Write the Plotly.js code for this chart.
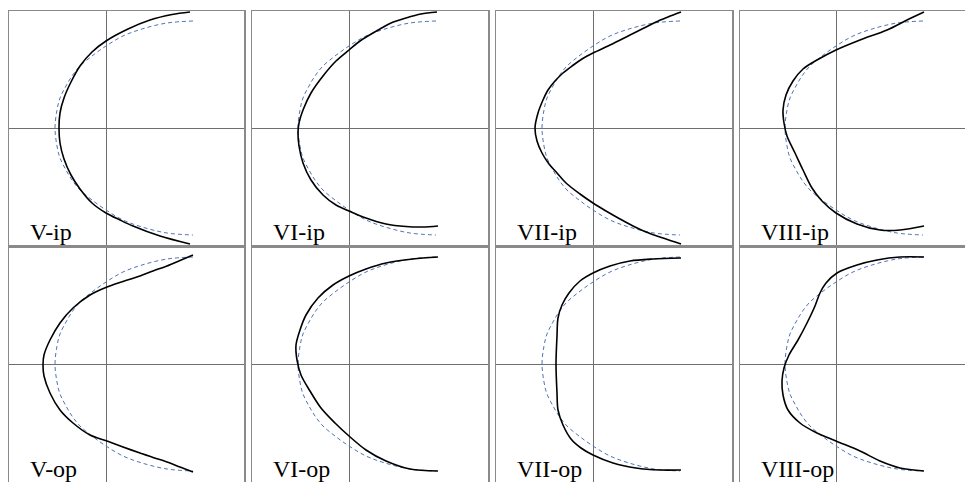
<!DOCTYPE html>
<html>
<head>
<meta charset="utf-8">
<script src="https://cdn.plot.ly/plotly-3.0.1.min.js"></script>
<style>
  html, body { margin: 0; padding: 0; background: #fff; }
  #chart { width: 965px; height: 482px; }
</style>
</head>
<body>
<div id="chart"></div>
<script>
// Panel labels, in drawing order (top row: in-plane, bottom row: out-of-plane)
const panelNames = ['V-ip', 'VI-ip', 'VII-ip', 'VIII-ip', 'V-op', 'VI-op', 'VII-op', 'VIII-op'];

// Reference profile (dashed), shared by every panel
const refX = [0.87, 0.61, 0.36, 0.17, 0.00, -0.14, -0.26, -0.34, -0.40, -0.46, -0.49, -0.51, -0.49, -0.46, -0.40, -0.34, -0.26, -0.14, 0.00, 0.17, 0.36, 0.61, 0.87];
const refY = [1.07, 1.05, 0.99, 0.92, 0.82, 0.72, 0.62, 0.52, 0.42, 0.30, 0.18, 0.00, -0.18, -0.30, -0.42, -0.52, -0.62, -0.72, -0.82, -0.92, -0.99, -1.05, -1.07];

// Measured profiles (solid)
const vIpX = [0.84, 0.66, 0.44, 0.22, 0.00, -0.14, -0.26, -0.35, -0.42, -0.46, -0.47, -0.46, -0.42, -0.35, -0.26, -0.14, 0.00, 0.14, 0.27, 0.54, 0.84];
const vIpY = [1.16, 1.135, 1.08, 0.99, 0.87, 0.76, 0.62, 0.46, 0.30, 0.15, 0.00, -0.15, -0.31, -0.47, -0.61, -0.75, -0.85, -0.92, -0.98, -1.08, -1.16];

const viIpX = [0.88, 0.72, 0.57, 0.42, 0.31, 0.11, 0.00, -0.13, -0.26, -0.38, -0.46, -0.50, -0.51, -0.50, -0.46, -0.38, -0.26, -0.13, 0.00, 0.17, 0.37, 0.57, 0.74, 0.89];
const viIpY = [1.16, 1.14, 1.10, 1.05, 0.99, 0.87, 0.78, 0.67, 0.52, 0.35, 0.18, 0.05, -0.05, -0.18, -0.35, -0.52, -0.67, -0.77, -0.83, -0.90, -0.96, -0.985, -0.99, -0.98];

const viiIpX = [0.88, 0.75, 0.63, 0.50, 0.37, 0.17, 0.00, -0.11, -0.21, -0.30, -0.38, -0.45, -0.50, -0.55, -0.58, -0.56, -0.51, -0.44, -0.36, -0.27, -0.13, 0.00, 0.13, 0.27, 0.40, 0.53, 0.70, 0.88];
const viiIpY = [1.16, 1.11, 1.06, 0.995, 0.93, 0.83, 0.75, 0.69, 0.62, 0.55, 0.47, 0.38, 0.28, 0.15, 0.00, -0.13, -0.25, -0.36, -0.45, -0.55, -0.66, -0.75, -0.83, -0.91, -0.98, -1.04, -1.10, -1.16];

const viiiIpX = [0.88, 0.71, 0.51, 0.24, 0.00, -0.19, -0.33, -0.43, -0.50, -0.53, -0.52, -0.49, -0.41, -0.33, -0.24, -0.14, 0.00, 0.21, 0.44, 0.64, 0.88];
const viiiIpY = [1.16, 1.08, 0.98, 0.88, 0.78, 0.68, 0.59, 0.47, 0.33, 0.18, 0.05, -0.08, -0.25, -0.42, -0.60, -0.73, -0.85, -0.96, -1.02, -1.02, -0.98];

const vOpX = [0.87, 0.74, 0.61, 0.47, 0.34, 0.17, 0.01, -0.16, -0.33, -0.46, -0.56, -0.62, -0.63, -0.62, -0.56, -0.46, -0.33, -0.16, 0.01, 0.17, 0.34, 0.47, 0.61, 0.74, 0.87];
const vOpY = [1.09, 1.035, 0.98, 0.93, 0.88, 0.825, 0.77, 0.69, 0.56, 0.41, 0.24, 0.09, -0.01, -0.12, -0.29, -0.46, -0.59, -0.71, -0.77, -0.83, -0.89, -0.935, -0.98, -1.03, -1.08];

const viOpX = [0.89, 0.64, 0.37, 0.17, 0.00, -0.16, -0.31, -0.43, -0.49, -0.53, -0.52, -0.48, -0.39, -0.28, -0.14, 0.00, 0.17, 0.37, 0.61, 0.89];
const viOpY = [1.07, 1.05, 1.01, 0.95, 0.88, 0.79, 0.66, 0.49, 0.34, 0.19, 0.04, -0.11, -0.27, -0.44, -0.59, -0.72, -0.86, -0.97, -1.05, -1.07];

const viiOpX = [0.88, 0.60, 0.37, 0.17, 0.00, -0.13, -0.24, -0.31, -0.35, -0.36, -0.37, -0.36, -0.35, -0.30, -0.22, -0.12, 0.00, 0.20, 0.43, 0.67, 0.88];
const viiOpY = [1.06, 1.05, 1.03, 0.98, 0.91, 0.83, 0.71, 0.59, 0.46, 0.28, 0.00, -0.29, -0.46, -0.61, -0.75, -0.84, -0.91, -0.99, -1.04, -1.06, -1.06];

const viiiOpX = [0.88, 0.64, 0.41, 0.21, 0.01, -0.10, -0.16, -0.21, -0.29, -0.38, -0.47, -0.52, -0.54, -0.53, -0.48, -0.36, -0.21, 0.00, 0.24, 0.44, 0.64, 0.88];
const viiiOpY = [1.07, 1.07, 1.04, 0.99, 0.91, 0.81, 0.71, 0.58, 0.41, 0.24, 0.09, -0.04, -0.17, -0.31, -0.46, -0.59, -0.68, -0.77, -0.87, -0.97, -1.04, -1.07];

const measuredX = [vIpX, viIpX, viiIpX, viiiIpX, vOpX, viOpX, viiOpX, viiiOpX];
const measuredY = [vIpY, viIpY, viiIpY, viiiIpY, vOpY, viOpY, viiOpY, viiiOpY];

// Panel frame geometry in pixels (figure is 965 x 482)
const W = 965, H = 482, PX_PER_UNIT = 100;
const colLeft = [9, 252, 496, 740];
const colRight = [244, 488, 732, 965];
const colCenter = [106, 349, 593, 836];
const rowTop = [11, 248];
const rowBottom = [245, 482];
const rowCenter = [128, 364];

const frameColor = '#8a8a8a';
const crossColor = '#6e6e6e';

const traces = [];
const layout = {
  width: W, height: H,
  margin: { l: 0, r: 0, t: 0, b: 0 },
  paper_bgcolor: '#ffffff',
  plot_bgcolor: '#ffffff',
  showlegend: false,
  annotations: []
};

for (let i = 0; i < 8; i++) {
  const r = Math.floor(i / 4), c = i % 4;
  const n = i + 1;
  const xa = 'xaxis' + (n === 1 ? '' : n), ya = 'yaxis' + (n === 1 ? '' : n);
  const xr = 'x' + (n === 1 ? '' : n), yr = 'y' + (n === 1 ? '' : n);
  const lastCol = (c === 3);

  layout[xa] = {
    domain: [colLeft[c] / W, colRight[c] / W],
    range: [(colLeft[c] - colCenter[c]) / PX_PER_UNIT, (colRight[c] - colCenter[c]) / PX_PER_UNIT],
    anchor: yr,
    side: r === 1 ? 'top' : 'bottom',
    showline: true, mirror: r === 0, linecolor: frameColor, linewidth: 1.5,
    showgrid: false, showticklabels: false, ticks: '',
    zeroline: true, zerolinecolor: crossColor, zerolinewidth: 1,
    fixedrange: true
  };
  layout[ya] = {
    domain: [1 - rowBottom[r] / H, 1 - rowTop[r] / H],
    range: [(rowCenter[r] - rowBottom[r]) / PX_PER_UNIT, (rowCenter[r] - rowTop[r]) / PX_PER_UNIT],
    anchor: xr,
    showline: true, mirror: !lastCol, linecolor: frameColor, linewidth: 1.5,
    showgrid: false, showticklabels: false, ticks: '',
    zeroline: true, zerolinecolor: crossColor, zerolinewidth: 1,
    fixedrange: true
  };

  traces.push({
    x: refX, y: refY, xaxis: xr, yaxis: yr,
    type: 'scatter', mode: 'lines',
    line: { color: '#4f74b8', width: 1, dash: '4px,3px', shape: 'spline', smoothing: 1 },
    hoverinfo: 'skip'
  });
  traces.push({
    x: measuredX[i], y: measuredY[i], xaxis: xr, yaxis: yr,
    type: 'scatter', mode: 'lines',
    line: { color: '#000000', width: 1.6, shape: 'spline', smoothing: 0.9 },
    hoverinfo: 'skip'
  });

  layout.annotations.push({
    text: panelNames[i],
    xref: 'paper', yref: 'paper',
    x: (colLeft[c] + 19) / W,
    y: 1 - (rowBottom[r] + 2) / H,
    xanchor: 'left', yanchor: 'bottom',
    showarrow: false,
    font: { family: 'Liberation Serif, serif', size: 24, color: '#000000' }
  });
}

Plotly.newPlot('chart', traces, layout, { staticPlot: true, displayModeBar: false });
</script>
</body>
</html>
